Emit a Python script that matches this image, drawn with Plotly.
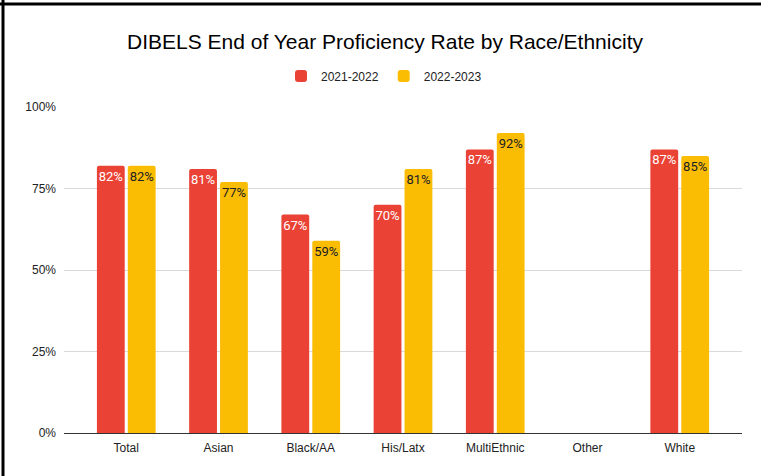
import plotly.graph_objects as go

categories = ["Total", "Asian", "Black/AA", "His/Latx", "MultiEthnic", "Other", "White"]
series_names = ["2021-2022", "2022-2023"]
values_2122 = [82, 81, 67, 70, 87, None, 87]
values_2223 = [82, 77, 59, 81, 92, None, 85]
tick_vals = [0, 25, 50, 75, 100]
tick_text = ["0%", "25%", "50%", "75%", "100%"]

colors = ["#EA4335", "#FBBC04"]
text_colors = ["#FFFFFF", "#202124"]

fig = go.Figure()
for name, vals, col, tcol in zip(series_names, [values_2122, values_2223], colors, text_colors):
    fig.add_trace(go.Bar(
        x=categories, y=vals, name=name,
        marker=dict(color=col, line=dict(width=0)),
        text=[f"{v}%" if v is not None else "" for v in vals],
        textposition="inside", insidetextanchor="end",
        textangle=0, constraintext="none",
        textfont=dict(family="Roboto, Arial, sans-serif", size=13, color=tcol),
        cliponaxis=False,
    ))

W, H = 761, 476
L, R, T, B = 64, 19, 107, 43
pw, ph = W - L - R, H - T - B

def px(x):
    return (x - L) / pw

def py(y):
    return (H - B - y) / ph

fig.update_layout(
    width=W, height=H,
    margin=dict(l=L, r=R, t=T, b=B, autoexpand=False),
    paper_bgcolor="white", plot_bgcolor="white",
    barmode="group", bargap=0.33, bargroupgap=0.1,
    barcornerradius=2,
    font=dict(family="Liberation Sans, Arial, sans-serif", size=12, color="#222222"),
    title=dict(text="DIBELS End of Year Proficiency Rate by Race/Ethnicity",
               x=385 / W, xanchor="center", y=1 - 42 / H, yanchor="middle",
               font=dict(size=21, color="#000000")),
    legend=dict(orientation="h", x=px(384), xanchor="center", y=py(76), yanchor="middle",
                font=dict(size=12, color="#222222"), itemwidth=30, bgcolor="rgba(0,0,0,0)"),
    shapes=[
        dict(type="line", xref="paper", yref="paper", x0=px(0), x1=px(W), y0=py(4), y1=py(4),
             line=dict(color="black", width=3)),
        dict(type="line", xref="paper", yref="paper", x0=px(3), x1=px(3), y0=py(0), y1=py(H),
             line=dict(color="black", width=3)),
    ],
)
fig.update_xaxes(range=[-0.675, 6.675], showgrid=False, showline=True, linecolor="#333333",
                 linewidth=1, ticks="", ticklabelstandoff=4,
                 tickfont=dict(size=12, color="#222222"))
fig.update_yaxes(range=[0, 100], tickvals=tick_vals, ticktext=tick_text,
                 showgrid=True, gridcolor="#D9D9D9", gridwidth=1, zeroline=False,
                 showline=False, ticks="", ticklabelstandoff=7,
                 tickfont=dict(size=12, color="#222222"))

fig.write_html("out.html", config={"displayModeBar": False},
               post_script="document.body.style.margin='0px';")
